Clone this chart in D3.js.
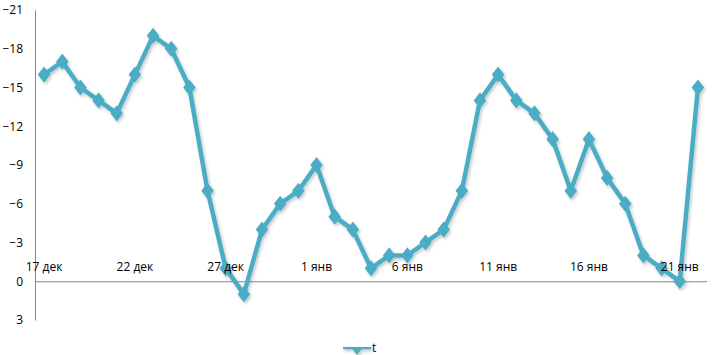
<!DOCTYPE html>
<html><head><meta charset="utf-8">
<script src="https://cdn.jsdelivr.net/npm/d3@7"></script>
<style>body{margin:0;background:#fff}svg{display:block;font-family:"Open Sans",Lato,sans-serif}</style>
</head><body><svg id="c" width="716" height="355"></svg>
<script>
const dates = ["17 дек","18 дек","19 дек","20 дек","21 дек","22 дек","23 дек","24 дек","25 дек","26 дек","27 дек","28 дек","29 дек","30 дек","31 дек",
"1 янв","2 янв","3 янв","4 янв","5 янв","6 янв","7 янв","8 янв","9 янв","10 янв","11 янв","12 янв","13 янв","14 янв","15 янв","16 янв","17 янв","18 янв","19 янв","20 янв","21 янв","22 янв"];
const tValues = [-16,-17,-15,-14,-13,-16,-19,-18,-15,-7,-1,1,-4,-6,-7,-9,-5,-4,-1,-2,-2,-3,-4,-7,-14,-16,-14,-13,-11,-7,-11,-8,-6,-2,-1,0,-15];
const yTicks = [-21,-18,-15,-12,-9,-6,-3,0,3];
const shownLabels = ["17 дек","22 дек","27 дек","1 янв","6 янв","11 янв","16 янв","21 янв"];
const seriesName = "t";

(function(){
const svg = d3.select("#c");
const mLeft = 35, mRight = 707, mTop = 10, mBottom = 320;
const color = "#4BACC6";
const x = d3.scaleBand().domain(dates).range([mLeft, mRight]);
const y = d3.scaleLinear().domain([-21, 3]).range([mTop, mBottom]);
const cx = d => x(d) + x.bandwidth()/2;

const defs = svg.append("defs");
const f = defs.append("filter").attr("id","sh").attr("filterUnits","userSpaceOnUse")
  .attr("x",0).attr("y",0).attr("width",716).attr("height",355);
f.append("feDropShadow").attr("dx",1.5).attr("dy",2).attr("stdDeviation",1.5).attr("flood-color","#000").attr("flood-opacity",0.22);

const ya = svg.append("g").attr("transform",`translate(${mLeft},0)`)
  .call(d3.axisLeft(y).tickValues(yTicks).tickSize(0).tickPadding(12).tickFormat(d3.format("d")));
ya.select(".domain").attr("stroke","#868686");
ya.selectAll("text").attr("font-size",12).attr("fill","#000").attr("font-family","'Open Sans',sans-serif");

const xa = svg.append("g").attr("transform",`translate(0,${y(0)})`)
  .call(d3.axisTop(x).tickValues(shownLabels).tickSize(0).tickPadding(10));
xa.select(".domain").attr("stroke","#868686").attr("d",`M${mLeft},0H${mRight}`);
xa.selectAll("text").attr("font-size",12).attr("fill","#000").attr("font-family","'Open Sans',sans-serif");

const g = svg.append("g").attr("filter","url(#sh)");
g.append("path").datum(dates)
  .attr("fill","none").attr("stroke",color).attr("stroke-width",4.5).attr("stroke-linejoin","round")
  .attr("d", d3.line().x(d=>cx(d)).y((d,i)=>y(tValues[i])));
const diamond = d3.symbol().type(d3.symbolDiamond).size(75);
g.selectAll("path.m").data(dates).join("path").attr("class","m")
  .attr("d", diamond).attr("fill",color)
  .attr("transform",(d,i)=>`translate(${cx(d)},${y(tValues[i])}) scale(1.35,1)`);

// labels drawn above the series
xa.selectAll(".tick").raise();
svg.node().appendChild(xa.node());
xa.select(".domain").remove();
svg.insert("line", "g").attr("x1",mLeft).attr("x2",mRight).attr("y1",y(0)+0.5).attr("y2",y(0)+0.5).attr("stroke","#868686");

const lg = svg.append("g").attr("transform","translate(343,347)");
const lgs = lg.append("g").attr("filter","url(#sh)");
lgs.append("rect").attr("x",0).attr("y",-2.25).attr("width",28).attr("height",4.5).attr("fill",color);
lgs.append("path").attr("d",diamond).attr("fill",color).attr("transform","translate(14,0) scale(1.35,1)");
lg.append("text").attr("x",29).attr("y",5).attr("font-size",12).text(seriesName);
})();
</script></body></html>
